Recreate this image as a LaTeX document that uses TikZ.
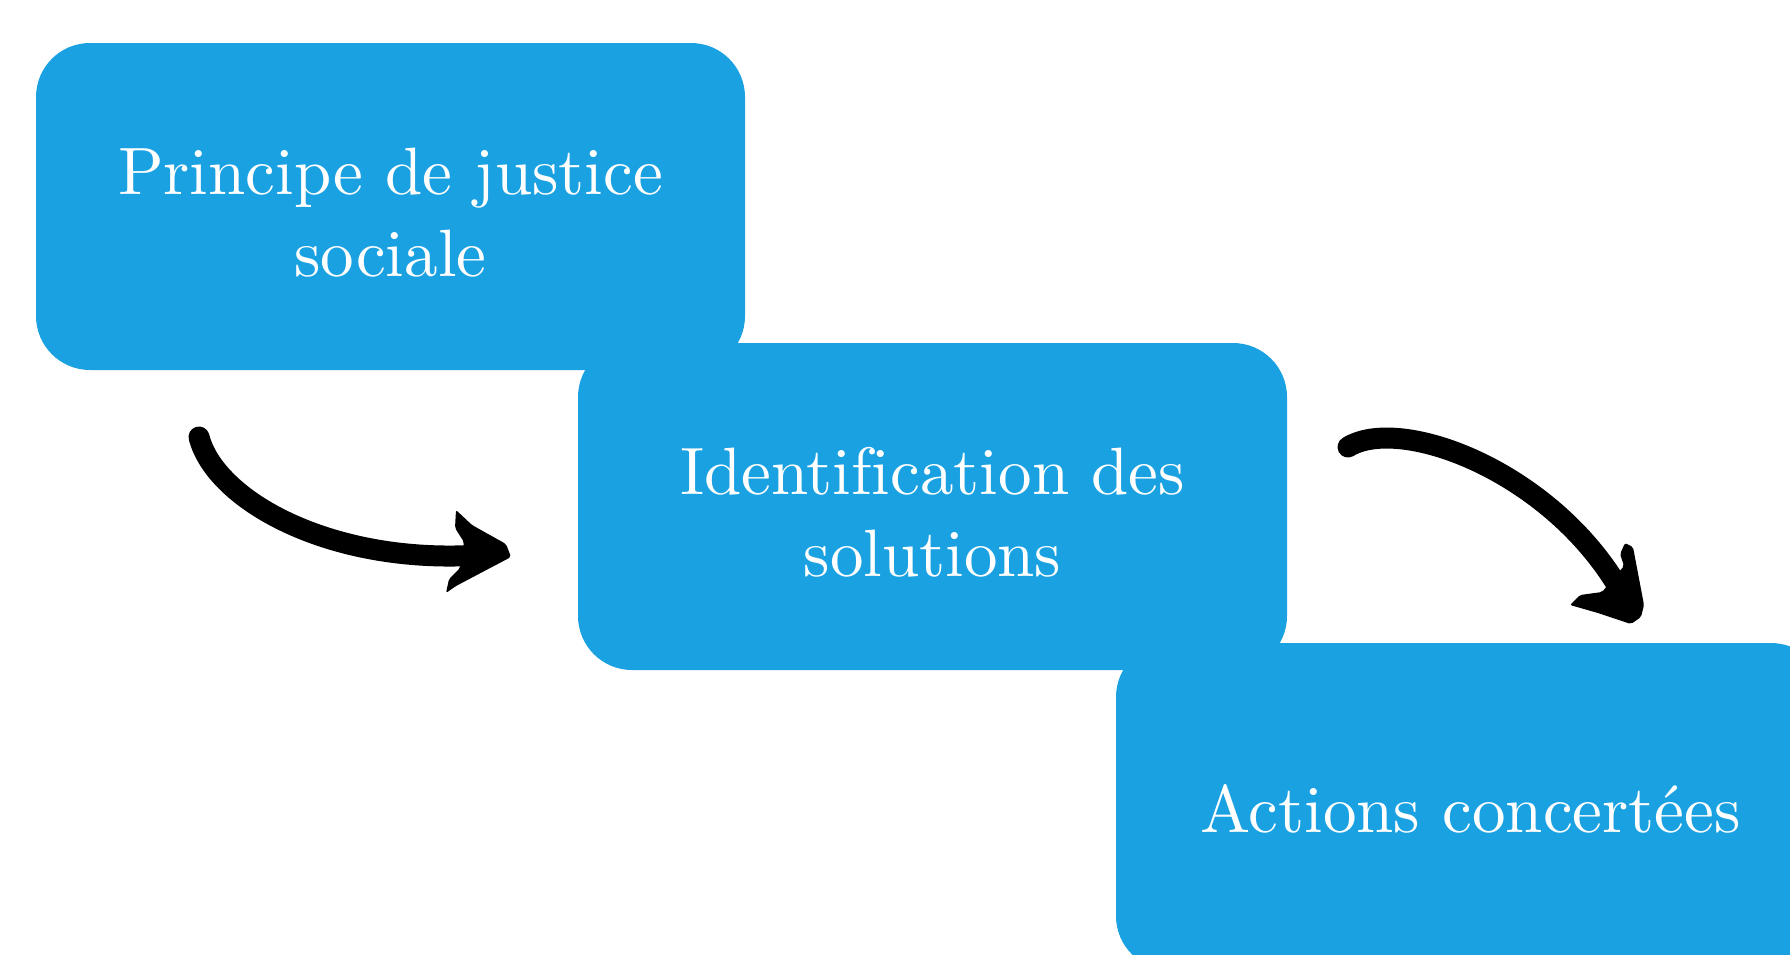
\documentclass[tikz,border=0pt]{standalone}
\usepackage{fontspec}
\newfontfamily\tenrm{lmroman10-regular}[Extension=.otf, Ligatures=NoCommon]
\definecolor{boxblue}{RGB}{26,161,226}
\begin{document}
\begin{tikzpicture}[x=1pt,y=-1pt,
  box/.style={fill=boxblue, rounded corners=54pt, minimum width=709pt, minimum height=327pt,
    text=white, align=center, font=\tenrm\fontsize{67}{82}\selectfont, inner sep=0pt},
  brush/.style={line width=21pt, line cap=round},
  arrowhead/.style={fill=black, rounded corners=2pt}]
\useasboundingbox (0,0) rectangle (1790,954);
\clip (0,0) rectangle (1790,954);
\node[box] (b1) at (390.5,206.5) {\rule{0pt}{59pt}Principe de justice\\sociale};
\node[box] (b2) at (932.5,506.5) {\rule{0pt}{59pt}Identification des\\solutions};
\node[box] (b3) at (1470.5,806.5) {\rule{0pt}{53pt}Actions concertées};
% arrow 1
\coordinate (a1s) at (199,437);
\coordinate (a1e) at (480,555);
\draw[brush] (a1s) .. controls (215,500) and (330,565) .. (a1e);
\fill[arrowhead] (456,510) -- (472,525) -- (506,544) -- (511,557) -- (456,586) -- (446,593)
  -- (449,579) -- (460,568) -- (464,542) -- (455,528) -- cycle;
% arrow 2
\coordinate (a2s) at (1348,447);
\coordinate (a2e) at (1620,590);
\draw[brush] (a2s) .. controls (1400,415) and (1550,470) .. (a2e);
\fill[arrowhead] (1625,543) -- (1633,547) -- (1644,605) -- (1641,617) -- (1631,624) -- (1598,613)
  -- (1570,605) -- (1580,595) -- (1602,592) -- (1624,566) -- (1620,554) -- cycle;
\end{tikzpicture}
\end{document}
